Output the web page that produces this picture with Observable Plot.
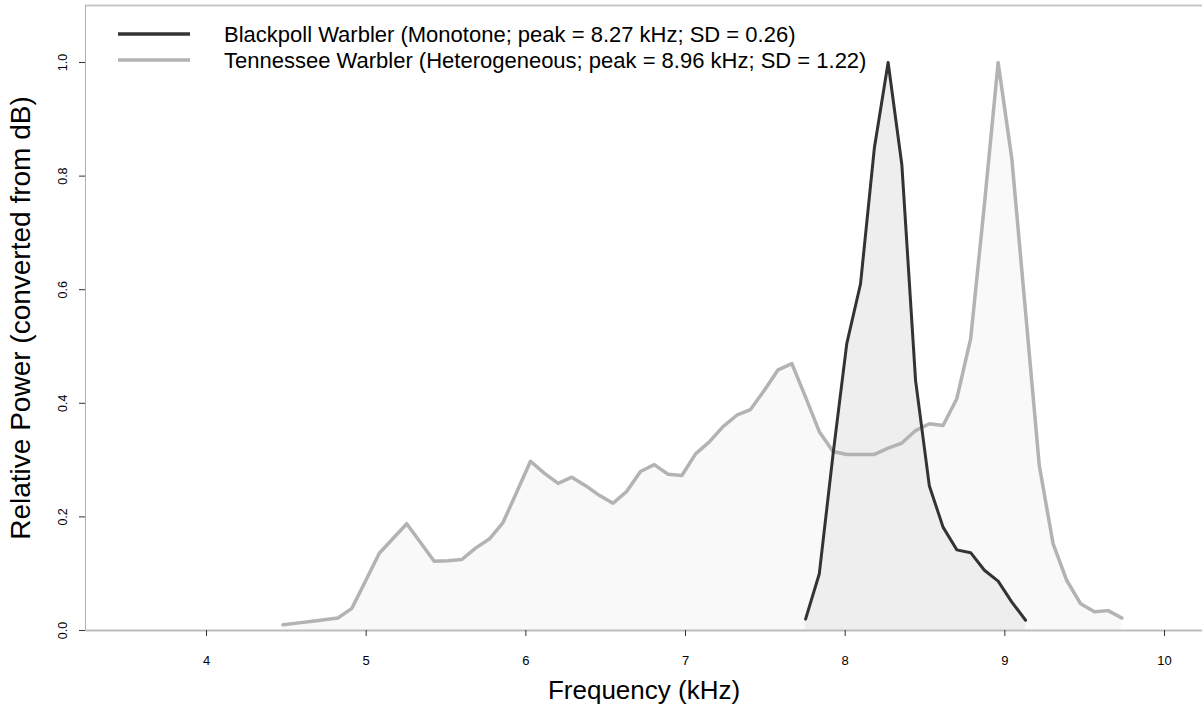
<!DOCTYPE html>
<html>
<head>
<meta charset="utf-8">
<script src="https://cdn.jsdelivr.net/npm/d3@7"></script>
<script src="https://cdn.jsdelivr.net/npm/@observablehq/plot@0.6"></script>
<style>
  html, body { margin: 0; padding: 0; background: #fff; }
  #chart svg { display: block; }
</style>
</head>
<body>
<div id="chart"></div>
<script>
// Tennessee Warbler (Heterogeneous) spectrum
const tnFreq = [4.479, 4.565, 4.651, 4.737, 4.823, 4.910, 4.996, 5.082, 5.168, 5.254,
  5.340, 5.426, 5.512, 5.599, 5.685, 5.771, 5.857, 5.943, 6.029, 6.115,
  6.202, 6.288, 6.374, 6.460, 6.546, 6.632, 6.718, 6.804, 6.891, 6.977,
  7.063, 7.149, 7.235, 7.321, 7.407, 7.494, 7.580, 7.666, 7.752, 7.838,
  7.924, 8.010, 8.096, 8.183, 8.269, 8.355, 8.441, 8.527, 8.613, 8.699,
  8.786, 8.872, 8.958, 9.044, 9.130, 9.216, 9.302, 9.388, 9.475, 9.561,
  9.647, 9.733];
const tnPower = [0.010, 0.013, 0.016, 0.019, 0.022, 0.039, 0.087, 0.136, 0.162, 0.188,
  0.155, 0.122, 0.123, 0.125, 0.145, 0.161, 0.190, 0.244, 0.298, 0.277,
  0.259, 0.270, 0.255, 0.238, 0.224, 0.245, 0.280, 0.292, 0.275, 0.273,
  0.311, 0.332, 0.359, 0.379, 0.389, 0.423, 0.459, 0.470, 0.411, 0.350,
  0.315, 0.310, 0.310, 0.310, 0.321, 0.330, 0.352, 0.364, 0.361, 0.408,
  0.514, 0.750, 1.000, 0.830, 0.560, 0.290, 0.153, 0.088, 0.047, 0.033,
  0.035, 0.022];

// Blackpoll Warbler (Monotone) spectrum
const bpFreq = [7.752, 7.838, 7.924, 8.010, 8.096, 8.183, 8.269, 8.355, 8.441, 8.527,
  8.613, 8.699, 8.786, 8.872, 8.958, 9.044, 9.130];
const bpPower = [0.020, 0.100, 0.310, 0.505, 0.610, 0.850, 1.000, 0.820, 0.440, 0.255,
  0.182, 0.142, 0.137, 0.106, 0.087, 0.050, 0.018];

const xTicks = [4, 5, 6, 7, 8, 9, 10];
const yTicks = [0, 0.2, 0.4, 0.6, 0.8, 1.0];
const legendLabels = [
  "Blackpoll Warbler (Monotone; peak = 8.27 kHz; SD = 0.26)",
  "Tennessee Warbler (Heterogeneous; peak = 8.96 kHz; SD = 1.22)"
];
const xTitle = "Frequency (kHz)";
const yTitle = "Relative Power (converted from dB)";

const tn = tnFreq.map((f, i) => ({f, p: tnPower[i]}));
const bp = bpFreq.map((f, i) => ({f, p: bpPower[i]}));

const xDomain = [3.242, 10.238];
const yDomain = [0, 1.1004];

const chart = Plot.plot({
  width: 1202,
  height: 715,
  marginLeft: 85,
  marginRight: 0,
  marginTop: 5,
  marginBottom: 85,
  x: {domain: xDomain},
  y: {domain: yDomain},
  style: {fontFamily: "'Liberation Sans', Arial, sans-serif", background: "#fff", color: "#000"},
  marks: [
    Plot.areaY(tn, {x: "f", y: "p", fill: "#f9f9f9"}),
    Plot.areaY(bp, {x: "f", y: "p", fill: "#eeeeee"}),
    Plot.ruleY([yDomain[1]], {stroke: "#c8c8c8", strokeWidth: 2}),
    Plot.ruleX([xDomain[0]], {stroke: "#b0b0b0", strokeWidth: 1}),
    Plot.ruleY([0], {stroke: "#bdbdbd", strokeWidth: 2}),
    Plot.lineY(tn, {x: "f", y: "p", stroke: "#b3b3b3", strokeWidth: 3.5}),
    Plot.lineY(bp, {x: "f", y: "p", stroke: "#333333", strokeWidth: 3}),
    Plot.axisX({ticks: xTicks, tickSize: 6, tickFormat: () => "", stroke: "#333", label: null}),
    Plot.axisY({ticks: yTicks, tickSize: 6, tickFormat: () => "", stroke: "#333", label: null}),
    Plot.text(xTicks, {x: d => d, frameAnchor: "bottom", dy: 30, lineAnchor: "middle", text: d => String(d), fontSize: 13, fill: "#000"}),
    Plot.text(yTicks, {y: d => d, frameAnchor: "left", dx: -23, rotate: -90, textAnchor: "middle", lineAnchor: "middle", text: d => d3.format(".1f")(d), fontSize: 12.5, fill: "#000"}),
    Plot.text([xTitle], {frameAnchor: "bottom", dy: 60, lineAnchor: "middle", fontSize: 26, fill: "#000"}),
    Plot.text([yTitle], {frameAnchor: "left", dx: -64, rotate: -90, textAnchor: "middle", lineAnchor: "middle", fontSize: 28, fill: "#000"})
  ]
});

document.getElementById("chart").appendChild(chart);

// Legend (top-left, inside the plot)
const svg = d3.select(chart);
const legendColors = ["#333333", "#b3b3b3"];
const lg = svg.append("g")
  .attr("font-family", "'Liberation Sans', Arial, sans-serif")
  .attr("text-anchor", "start");
legendLabels.forEach((lab, i) => {
  const y = 34 + i * 26;
  lg.append("line").attr("x1", 118).attr("x2", 190).attr("y1", y).attr("y2", y)
    .attr("stroke", legendColors[i]).attr("stroke-width", 3.5);
  lg.append("text").attr("x", 224).attr("y", y).attr("dy", "0.35em")
    .attr("text-anchor", "start")
    .attr("font-size", 22).attr("fill", "#000").text(lab);
});
</script>
</body>
</html>
